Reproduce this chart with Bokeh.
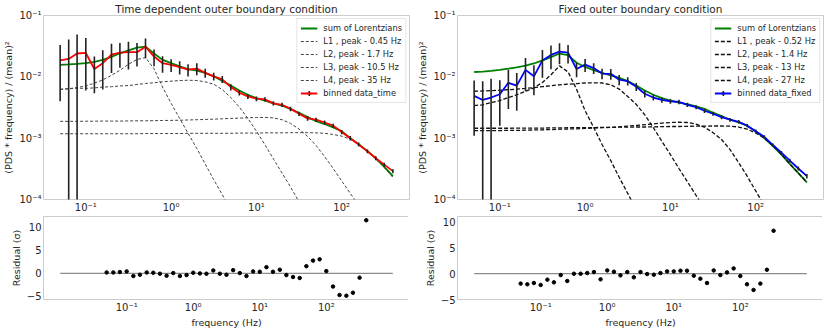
import numpy as np
from bokeh.plotting import figure
from bokeh.models import Range1d, FixedTicker, CustomJSTickFormatter, Legend, LegendItem
from bokeh.layouts import row, column
from bokeh.embed import file_html
from bokeh.resources import INLINE

# ---------------- data ----------------
freq = [0.05, 0.063, 0.079, 0.1, 0.126, 0.158, 0.2, 0.251, 0.316, 0.398,
        0.501, 0.631, 0.794, 1.0, 1.26, 1.58, 2.0, 2.51, 3.16, 3.98,
        5.01, 6.31, 7.94, 10.0, 12.6, 15.8, 20.0, 25.1, 31.6, 39.8,
        50.1, 63.1, 79.4, 100.0, 126.0, 158.0, 200.0, 251.0, 316.0, 398.0]

# --- time dependent outer boundary ---
data_time = [0.0185, 0.0196, 0.024, 0.0245, 0.0134, 0.0167, 0.023, 0.0248, 0.0252, 0.0252,
             0.031, 0.0214, 0.0167, 0.0157, 0.0144, 0.0131, 0.0136, 0.0116, 0.0102, 0.0091,
             0.0068, 0.0055, 0.0048, 0.0044, 0.0043, 0.0037, 0.0035, 0.0030, 0.0025, 0.0021,
             0.0020, 0.0018, 0.0016, 0.00126, 0.00100, 0.00079, 0.00061, 0.00047, 0.00037, 0.00029]
err_time = [0.0145, 0.021, 0.025, 0.0185, 0.008, 0.0105, 0.0115, 0.0108, 0.012, 0.0105,
            0.011, 0.0065, 0.005, 0.0037, 0.0035, 0.003, 0.003, 0.0019, 0.0015, 0.0012,
            0.0008, 0.00055, 0.00045, 0.0004, 0.00035, 0.0003, 0.00028, 0.00025, 0.0002, 0.00018,
            0.00016, 0.00014, 0.00012, 0.0001, 0.00008, 0.00006, 0.000045, 0.000035, 0.000028, 0.000022]
sum_time = [0.0157, 0.016, 0.0163, 0.0167, 0.0176, 0.0189, 0.0212, 0.0242, 0.027, 0.030,
            0.031, 0.024, 0.0189, 0.0167, 0.0148, 0.0134, 0.0126, 0.0116, 0.0102, 0.0086,
            0.0072, 0.0060, 0.0051, 0.0045, 0.0041, 0.0037, 0.0034, 0.0030, 0.0026, 0.0022,
            0.0019, 0.0017, 0.0015, 0.0013, 0.0010, 0.00080, 0.00062, 0.00047, 0.00034, 0.00024]
L1_time = [0.0062, 0.0064, 0.0067, 0.0071, 0.0079, 0.0089, 0.0106, 0.0128, 0.0160, 0.0192,
           0.0206, 0.0135, 0.0068, 0.0037, 0.0021, 0.0012, 0.00068, 0.00038, 0.00021, 0.00012,
           0.000066]
L2_time = [0.0063, 0.0064, 0.0065, 0.0065, 0.0066, 0.0068, 0.0069, 0.0071, 0.0072, 0.0075,
           0.0078, 0.0080, 0.0083, 0.0085, 0.0087, 0.0088, 0.0087, 0.0083, 0.0076, 0.0062,
           0.0046, 0.0032, 0.0021, 0.0013, 0.00078, 0.00046, 0.00027, 0.00016, 0.000092]
L3_time = [0.00188, 0.00188, 0.00188, 0.00189, 0.00189, 0.0019, 0.0019, 0.0019, 0.00191, 0.00192,
           0.00192, 0.00193, 0.00194, 0.00195, 0.00196, 0.00198, 0.002, 0.00202, 0.00204, 0.00207,
           0.0021, 0.00212, 0.00215, 0.00217, 0.00218, 0.00214, 0.002, 0.00174, 0.00141, 0.00107,
           0.00076, 0.0005, 0.00032, 0.0002, 0.000126, 0.00008]
L4_time = [0.00118, 0.00118, 0.00118, 0.00118, 0.00118, 0.00118, 0.00118, 0.00118, 0.00118, 0.00118,
           0.00119, 0.00119, 0.00119, 0.00119, 0.00119, 0.0012, 0.0012, 0.0012, 0.0012, 0.0012,
           0.0012, 0.00121, 0.00121, 0.00121, 0.00122, 0.00122, 0.00122, 0.00123, 0.00123, 0.00123,
           0.00122, 0.0012, 0.00115, 0.00108, 0.00096, 0.0008, 0.00062, 0.00046, 0.00033, 0.00023]
resid_time = [0.21, 0.21, 0.29, 0.43, -0.57, -0.29, 0.21, 0.14, -0.07, -0.5,
              0.07, -0.57, -0.36, 0.14, 0.0, -0.07, 0.64, -0.07, -0.29, 0.71,
              0.07, -0.57, 0.43, 0.36, 1.36, 0.36, 0.79, -0.36, -0.79, -1.0,
              1.57, 2.79, 3.07, 0.5, -2.86, -4.71, -4.86, -4.21, -0.93, 11.57]
labels_time = ["L1 , peak - 0.45 Hz", "L2, peak - 1.7 Hz", "L3, peak - 10.5 Hz", "L4, peak - 35 Hz"]

# --- fixed outer boundary ---
data_fixed = [0.0049, 0.0042, 0.0046, 0.0052, 0.008, 0.0072, 0.013, 0.0102, 0.0185, 0.0228,
              0.0257, 0.0248, 0.0134, 0.0158, 0.0139, 0.0113, 0.0112, 0.009, 0.0085, 0.0069,
              0.0053, 0.0046, 0.0042, 0.0040, 0.0039, 0.0035, 0.0032, 0.0028, 0.0025, 0.0022,
              0.0020, 0.00185, 0.0016, 0.0013, 0.00105, 0.00078, 0.00058, 0.00043, 0.00032, 0.00024]
err_fixed = [0.0038, 0.0043, 0.0047, 0.0036, 0.005, 0.0044, 0.0072, 0.0052, 0.0088, 0.0095,
             0.0097, 0.0083, 0.0036, 0.0038, 0.0028, 0.0022, 0.0022, 0.0017, 0.0013, 0.001,
             0.0007, 0.0005, 0.00042, 0.00036, 0.00032, 0.00028, 0.00025, 0.00022, 0.00019, 0.00016,
             0.00014, 0.00012, 0.0001, 0.00008, 0.000065, 0.00005, 0.00004, 0.00003, 0.000024, 0.00002]
sum_fixed = [0.0120, 0.0122, 0.0125, 0.0130, 0.0136, 0.0143, 0.0152, 0.0165, 0.0185, 0.021,
             0.024, 0.0225, 0.017, 0.0145, 0.0128, 0.0116, 0.0106, 0.0096, 0.0085, 0.0072,
             0.0060, 0.0051, 0.0045, 0.0041, 0.0038, 0.0036, 0.0033, 0.0030, 0.0026, 0.0023,
             0.0020, 0.0018, 0.0016, 0.0013, 0.0010, 0.00075, 0.00054, 0.00038, 0.00027, 0.00019]
L1_fixed = [0.0034, 0.0035, 0.0038, 0.0041, 0.0046, 0.0051, 0.0058, 0.0066, 0.0081, 0.0108,
            0.0151, 0.012, 0.0063, 0.0028, 0.0015, 0.00079, 0.00043, 0.00023, 0.000126, 0.000068]
L2_fixed = [0.00582, 0.00589, 0.00596, 0.00603, 0.00617, 0.00631, 0.00646, 0.00668, 0.00692, 0.00716,
            0.00741, 0.00759, 0.00776, 0.00794, 0.00798, 0.00794, 0.00741, 0.00631, 0.00479, 0.00355,
            0.0024, 0.00148, 0.00089, 0.00054, 0.00032, 0.000195, 0.000117, 0.00007]
L3_fixed = [0.00133, 0.00133, 0.00133, 0.00133, 0.00134, 0.00134, 0.00135, 0.00136, 0.00137, 0.00138,
            0.0014, 0.00141, 0.00142, 0.00144, 0.00146, 0.00148, 0.0015, 0.00153, 0.00157, 0.00161,
            0.00166, 0.00171, 0.00176, 0.0018, 0.00182, 0.0018, 0.0017, 0.00151, 0.00123, 0.00095,
            0.00065, 0.0004, 0.00024, 0.000138, 0.00008]
L4_fixed = [0.00145, 0.00145, 0.00145, 0.00145, 0.00145, 0.00146, 0.00146, 0.00146, 0.00146, 0.00147,
            0.00147, 0.00148, 0.00148, 0.00149, 0.00149, 0.0015, 0.0015, 0.00151, 0.00151, 0.00152,
            0.00152, 0.00153, 0.00154, 0.00155, 0.00155, 0.00156, 0.00157, 0.00157, 0.00158, 0.00158,
            0.00157, 0.00152, 0.0014, 0.00122, 0.001, 0.00076, 0.00055, 0.00038, 0.00027, 0.00019]
resid_fixed = [-1.92, -2.05, -1.8, -2.18, -1.15, -1.67, -0.26, -1.41, 0.0, 0.0,
               0.13, 0.32, -1.09, 0.64, 0.38, -0.32, 0.32, -0.7, 0.32, -0.06,
               -0.19, 0.13, 0.45, 0.45, 0.58, 0.58, -0.38, -0.96, -1.8, 0.64,
               -0.26, 0.26, 1.03, -0.45, -2.05, -3.14, -1.92, 0.77, 8.33]
labels_fixed = ["L1 , peak - 0.52 Hz", "L2, peak - 1.4 Hz", "L3, peak - 13 Hz", "L4, peak - 27 Hz"]

zero_line_x = [0.01, 1000.0]
zero_line_y = [0.0, 0.0]
resid_fixed_ylim = (-5.0, 11.1)

x_ticks = [0.1, 1, 10, 100]
y_ticks_top = [1e-4, 1e-3, 1e-2, 1e-1]
y_ticks_res = [-5, 0, 5, 10]

FONT = "DejaVu Sans"
TXT = "#262626"

LOGFMT = CustomJSTickFormatter(code="""
const e = Math.round(Math.log10(tick));
const sup = {"-":"\u207b","0":"\u2070","1":"\u00b9","2":"\u00b2","3":"\u00b3",
             "4":"\u2074","5":"\u2075","6":"\u2076","7":"\u2077","8":"\u2078","9":"\u2079"};
return "10" + String(e).split("").map(c => sup[c]).join("");
""")
LINFMT = CustomJSTickFormatter(code="""
return tick < 0 ? "\u2212" + Math.abs(tick) : String(tick);
""")


def style(p):
    p.xgrid.visible = False
    p.ygrid.visible = False
    p.outline_line_color = "#cccccc"
    p.outline_line_width = 1
    p.background_fill_color = "white"
    for ax in p.axis:
        ax.axis_line_color = None
        ax.major_tick_line_color = None
        ax.minor_tick_line_color = None
        ax.major_tick_out = 0
        ax.major_tick_in = 0
        ax.minor_tick_out = 0
        ax.minor_tick_in = 0
        ax.major_label_text_font = FONT
        ax.major_label_text_font_size = "10px"
        ax.major_label_text_color = TXT
        ax.major_label_standoff = 2
        ax.axis_label_text_font = FONT
        ax.axis_label_text_font_size = "9.5px"
        ax.axis_label_text_font_style = "normal"
        ax.axis_label_text_color = TXT
        ax.axis_label_standoff = 2


def top_panel(title, border_left, border_right, data, err, total, comps, labels,
              color, data_label, dash, comp_color, comp_width):
    lf = np.log10(freq)
    pad = 0.05 * (lf.max() - lf.min())
    p = figure(x_axis_type="log", y_axis_type="log",
               x_range=Range1d(10 ** (lf.min() - pad), 10 ** (lf.max() + pad)),
               y_range=Range1d(y_ticks_top[0], y_ticks_top[-1]),
               frame_width=366, frame_height=184,
               min_border_left=border_left, min_border_right=border_right,
               min_border_top=0, min_border_bottom=16,
               toolbar_location=None, output_backend="svg", title=title)
    p.title.align = "center"
    p.title.text_font = FONT
    p.title.text_font_size = "10.5px"
    p.title.text_font_style = "normal"
    p.title.text_color = TXT
    p.title.standoff = 1
    style(p)
    p.xaxis.ticker = FixedTicker(ticks=x_ticks)
    p.yaxis.ticker = FixedTicker(ticks=y_ticks_top)
    p.xaxis.formatter = LOGFMT
    p.yaxis.formatter = LOGFMT
    p.yaxis.axis_label = "(PDS * frequency) / (mean)\u00b2"

    items = []
    r = p.line(freq, total, line_color="#008000", line_width=1.8)
    items.append(LegendItem(label="sum of Lorentzians", renderers=[r]))
    for comp, lab in zip(comps, labels):
        r = p.line(freq[:len(comp)], comp, line_color=comp_color, line_width=comp_width,
                   line_dash=dash)
        items.append(LegendItem(label=lab, renderers=[r]))
    d = np.array(data)
    e = np.array(err)
    lo = np.where(d - e > 0, d - e, 1e-8)
    hi = d + e
    rl = p.line(freq, data, line_color=color, line_width=1.8)
    p.segment(x0=freq, y0=lo, x1=freq, y1=hi, line_color="#222222", line_width=1.6)
    # legend-only marker (NaN position is never drawn in the plot area)
    rm = p.scatter(x=[np.nan], y=[np.nan], marker="cross", size=10,
                   line_color="#222222", line_width=1.6)
    items.append(LegendItem(label=data_label, renderers=[rm, rl]))

    leg = Legend(items=items, location="top_right")
    leg.label_text_font = FONT
    leg.label_text_font_size = "8.3px"
    leg.label_text_color = TXT
    leg.glyph_width = 17
    leg.glyph_height = 12
    leg.label_height = 12
    leg.spacing = 1
    leg.padding = 3
    leg.margin = 3
    leg.label_standoff = 6
    leg.border_line_color = "#cccccc"
    leg.border_line_width = 1
    leg.background_fill_alpha = 0.85
    p.add_layout(leg)
    return p


def resid_panel(border_left, border_right, resid, ylim):
    p = figure(x_axis_type="log",
               x_range=Range1d(10 ** (np.log10(zero_line_x[0]) - 0.25), 10 ** (np.log10(zero_line_x[1]) + 0.25)),
               y_range=Range1d(*ylim),
               frame_width=366, frame_height=83,
               min_border_left=border_left, min_border_right=border_right,
               min_border_top=1, min_border_bottom=26,
               toolbar_location=None, output_backend="svg")
    style(p)
    p.xaxis.ticker = FixedTicker(ticks=x_ticks)
    p.xaxis.formatter = LOGFMT
    p.yaxis.ticker = FixedTicker(ticks=y_ticks_res)
    p.yaxis.formatter = LINFMT
    p.xaxis.axis_label = "frequency (Hz)"
    p.xaxis.axis_label_standoff = 1
    p.yaxis.axis_label = "Residual (\u03c3)"
    p.line(zero_line_x, zero_line_y, line_color="#8c8c8c", line_width=1.2)
    p.scatter(freq[:len(resid)], resid, size=3.5, color="black")
    return p


rt = np.array(resid_time)
span = rt.max() - rt.min()
ylim_time = (rt.min() - 0.05 * span, rt.max() + 0.05 * span)

p1 = top_panel("Time dependent outer boundary condition", 37, 5, data_time, err_time, sum_time,
               [L1_time, L2_time, L3_time, L4_time], labels_time, "#ff0000", "binned data_time",
               "3 2", "#444444", 1.0)
p2 = top_panel("Fixed outer boundary condition", 41, 1, data_fixed, err_fixed, sum_fixed,
               [L1_fixed, L2_fixed, L3_fixed, L4_fixed], labels_fixed, "#0000ff", "binned data_fixed",
               "4 2", "#111111", 1.3)
p3 = resid_panel(37, 5, resid_time, ylim_time)
p4 = resid_panel(41, 1, resid_fixed, resid_fixed_ylim)

layout = row(column(p1, p3), column(p2, p4))
open("out.html", "w").write(file_html(layout, INLINE))
